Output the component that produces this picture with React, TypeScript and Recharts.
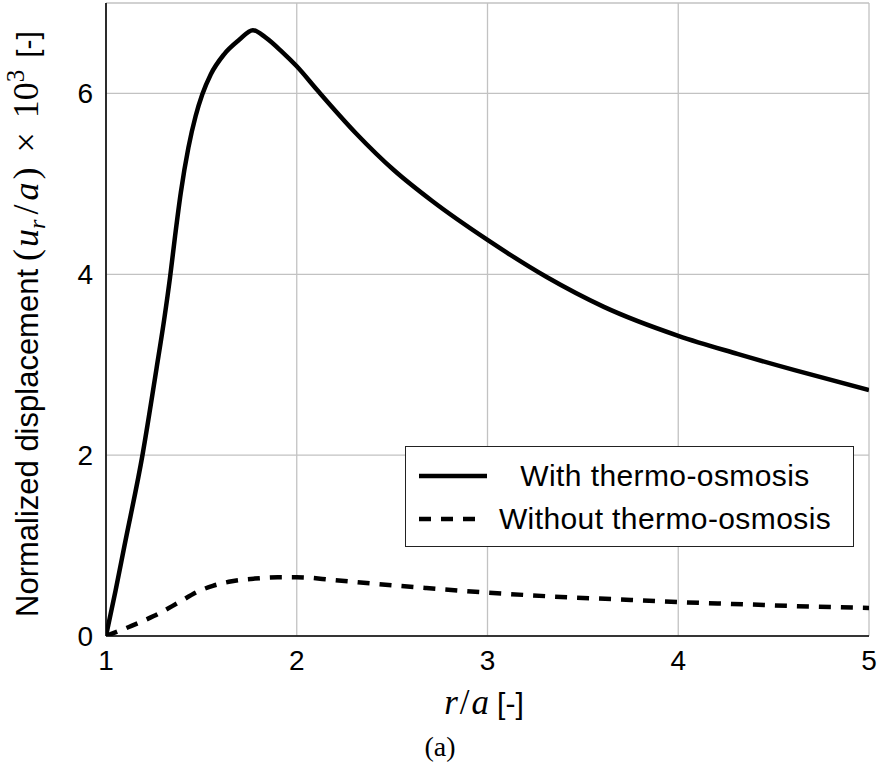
import React from 'react';
import { LineChart, Line, XAxis, YAxis, CartesianGrid, Label } from 'recharts';

// r/a values and normalized displacement (x 10^3) — with thermo-osmosis
const withR = [1.0, 1.05, 1.096, 1.192, 1.265, 1.305, 1.336, 1.362, 1.392, 1.432, 1.47, 1.505, 1.549, 1.618, 1.697, 1.77, 1.836, 1.923, 2.0, 2.106, 2.31, 2.51, 2.71, 3.0, 3.31, 3.61, 4.0, 4.31, 4.61, 5.0];
const withU = [0, 0.5, 0.99, 2.01, 2.96, 3.5, 3.97, 4.42, 4.9, 5.4, 5.75, 5.99, 6.21, 6.43, 6.59, 6.7, 6.62, 6.46, 6.3, 6.04, 5.56, 5.15, 4.81, 4.38, 3.97, 3.64, 3.32, 3.12, 2.94, 2.72];

// without thermo-osmosis
const withoutR = [1.0, 1.12, 1.25, 1.38, 1.48, 1.56, 1.66, 1.78, 1.9, 2.0, 2.19, 2.42, 2.68, 3.0, 3.31, 3.68, 4.0, 4.35, 4.7, 5.0];
const withoutU = [0, 0.1, 0.22, 0.37, 0.49, 0.555, 0.605, 0.635, 0.65, 0.65, 0.62, 0.575, 0.53, 0.48, 0.44, 0.405, 0.375, 0.35, 0.325, 0.31];

const xTicks = [1, 2, 3, 4, 5];
const yTicks = [0, 2, 4, 6];

const seriesNames = ['With thermo-osmosis', 'Without thermo-osmosis'];
const seriesDash = ['', '12 10'];

const withData = withR.map((r, i) => ({ r, u: withU[i] }));
const withoutData = withoutR.map((r, i) => ({ r, u: withoutU[i] }));

const SANS = '"Liberation Sans", Arial, Helvetica, sans-serif';
const SERIF = '"Liberation Serif", "Times New Roman", serif';

const tickStyle = { fontFamily: SANS, fontSize: 28, fill: '#000' };

const XTitle = () => (
  <g>
    <text x={484} y={714} textAnchor="middle" fill="#000">
      <tspan fontFamily={SERIF} fontStyle="italic" fontSize={35}>r</tspan>
      <tspan fontFamily={SERIF} fontSize={35} dx={2}>/</tspan>
      <tspan fontFamily={SERIF} fontStyle="italic" fontSize={35} dx={2}>a</tspan>
      <tspan fontFamily={SANS} fontSize={30} dx={8}>[-]</tspan>
    </text>
    <text x={440} y={756} textAnchor="middle" fill="#000" fontFamily={SERIF} fontSize={28}>
      (a)
    </text>
  </g>
);

const YTitle = () => (
  <text x={38} y={617} transform="rotate(-90, 38, 617)" textAnchor="start" fill="#000">
    <tspan fontFamily={SANS} fontSize={31}>Normalized displacement</tspan>
    <tspan fontFamily={SERIF} fontSize={36} dx={8}>(</tspan>
    <tspan fontFamily={SERIF} fontStyle="italic" fontSize={36} dx={2}>u</tspan>
    <tspan fontFamily={SERIF} fontStyle="italic" fontSize={24} dy={7}>r</tspan>
    <tspan fontFamily={SERIF} fontSize={36} dy={-7} dx={5}>/</tspan>
    <tspan fontFamily={SERIF} fontStyle="italic" fontSize={36} dx={4}>a</tspan>
    <tspan fontFamily={SERIF} fontSize={36} dx={3}>)</tspan>
    <tspan fontFamily={SERIF} fontSize={36} dx={15}>×</tspan>
    <tspan fontFamily={SERIF} fontSize={36} dx={14}>10</tspan>
    <tspan fontFamily={SERIF} fontSize={25} dy={-14}>3</tspan>
    <tspan fontFamily={SANS} fontSize={30} dy={14} dx={12}>[-]</tspan>
  </text>
);

const LegendBox = () => (
  <div
    style={{
      position: 'absolute',
      left: 405,
      top: 446,
      width: 449,
      height: 101,
      boxSizing: 'border-box',
      border: '1.5px solid #222',
      background: '#fff',
    }}
  >
    {seriesNames.map((name, i) => (
      <div
        key={name}
        style={{
          position: 'absolute',
          left: 0,
          top: i === 0 ? 9 : 52,
          width: '100%',
          height: 40,
        }}
      >
        <svg width={70} height={40} style={{ position: 'absolute', left: 12, top: 0 }}>
          <line
            x1={1}
            y1={20}
            x2={i === 0 ? 69 : 61}
            y2={20}
            stroke="#000"
            strokeWidth={4.5}
            strokeDasharray={seriesDash[i] || undefined}
          />
        </svg>
        <div
          style={{
            position: 'absolute',
            left: 91,
            width: 336,
            top: 0,
            height: 40,
            lineHeight: '40px',
            textAlign: 'center',
            fontFamily: SANS,
            fontSize: 30,
            letterSpacing: 0.4,
            color: '#000',
            whiteSpace: 'nowrap',
          }}
        >
          {name}
        </div>
      </div>
    ))}
  </div>
);

export default function App() {
  return (
    <div style={{ position: 'absolute', left: 0, top: 0, width: 879, height: 772, background: '#fff' }}>
      <LineChart width={879} height={772} margin={{ top: 3, right: 10, left: 0, bottom: 56 }}>
        <CartesianGrid stroke="#c2c2c2" strokeWidth={1.3} />
        <XAxis
          type="number"
          dataKey="r"
          domain={[1, 5]}
          ticks={xTicks}
          allowDataOverflow
          height={80}
          tickLine={false}
          tickSize={0}
          tickMargin={14}
          axisLine={{ stroke: '#000', strokeWidth: 1.6 }}
          tick={tickStyle}
        >
          <Label content={XTitle} />
        </XAxis>
        <XAxis
          xAxisId="top"
          orientation="top"
          type="number"
          domain={[1, 5]}
          height={0}
          tick={false}
          tickLine={false}
          axisLine={{ stroke: '#000', strokeWidth: 1.6 }}
        />
        <YAxis
          type="number"
          domain={[0, 7]}
          ticks={yTicks}
          allowDataOverflow
          width={106}
          tickLine={false}
          tickSize={0}
          tickMargin={13}
          axisLine={{ stroke: '#000', strokeWidth: 1.6 }}
          tick={tickStyle}
        >
          <Label content={YTitle} />
        </YAxis>
        <YAxis
          yAxisId="right"
          orientation="right"
          type="number"
          domain={[0, 7]}
          width={0}
          tick={false}
          tickLine={false}
          axisLine={{ stroke: '#000', strokeWidth: 1.6 }}
        />
        <Line
          data={withData}
          dataKey="u"
          name={seriesNames[0]}
          type="monotone"
          stroke="#000"
          strokeWidth={4.5}
          dot={false}
          isAnimationActive={false}
        />
        <Line
          data={withoutData}
          dataKey="u"
          name={seriesNames[1]}
          type="monotone"
          stroke="#000"
          strokeWidth={4.5}
          strokeDasharray={seriesDash[1]}
          dot={false}
          isAnimationActive={false}
        />
      </LineChart>
      <LegendBox />
    </div>
  );
}
